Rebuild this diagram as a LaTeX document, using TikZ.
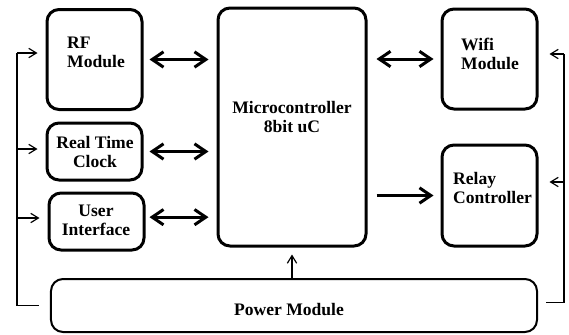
\documentclass[tikz,border=0pt]{standalone}
\usepackage{fontspec}
\setmainfont{Liberation Serif}
\usetikzlibrary{arrows.meta}

\begin{document}
\begin{tikzpicture}[x=0.3mm,y=-0.3mm,
  block/.style={draw, line width=0.9mm, rounded corners=3.6mm, inner sep=0pt},
  lbl/.style={font=\bfseries\fontsize{15}{16.2}\selectfont, inner sep=0pt},
  bothway/.style={line width=0.9mm, {Straight Barb[length=3.4mm,width=4.6mm]}-{Straight Barb[length=3.4mm,width=4.6mm]}},
  oneway/.style={line width=0.9mm, -{Straight Barb[length=3.4mm,width=4.6mm]}},
  wire/.style={line width=0.35mm},
  feed/.style={wire, -{Straight Barb[length=2.3mm,width=2.8mm]}}]
\useasboundingbox (0,0) rectangle (569,334);

% Blocks
\node[block, minimum width=28.5mm, minimum height=30mm] (rf) at (94.5,59.5) {};
\node[block, minimum width=28.5mm, minimum height=17.1mm] (rtc) at (94.5,151.5) {};
\node[block, minimum width=28.5mm, minimum height=17.1mm] (ui) at (96.5,221.5) {};
\node[block, minimum width=44.4mm, minimum height=71.4mm] (mcu) at (292,127) {};
\node[block, minimum width=28.5mm, minimum height=30mm] (wifi) at (489.5,59) {};
\node[block, minimum width=28.5mm, minimum height=30.3mm] (relay) at (489.5,195.5) {};
\node[block, line width=0.6mm, minimum width=145.8mm, minimum height=15.9mm] (power) at (294,305.5) {};

% Labels
\node[lbl, align=left, anchor=west] (rftext) at (67,52) {RF\\Module};
\node[lbl, align=center] (rtctext) at (95,152) {Real Time\\Clock};
\node[lbl, align=center] (uitext) at (96,220) {User\\Interface};
\node[lbl, align=center] (mcutext) at (292,117) {Microcontroller\\8bit uC};
\node[lbl, align=left, anchor=west] (wifitext) at (461,54) {Wifi\\Module};
\node[lbl, align=left, anchor=west] (relaytext) at (453,188) {Relay\\Controller};
\node[lbl] (powertext) at (289,310) {Power Module};

% Data links
\draw[bothway] ([xshift=1.8mm]rf.east) -- ([xshift=-2.4mm]rf.east -| mcu.west);
\draw[bothway] ([xshift=1.8mm]rtc.east) -- ([xshift=-2.4mm]rtc.east -| mcu.west);
\draw[bothway] ([xshift=1.2mm,yshift=1.3mm]ui.east) -- ([xshift=-2.4mm,yshift=1.3mm]ui.east -| mcu.west);
\draw[bothway] ([xshift=2.7mm]mcu.east |- wifi.west) -- ([xshift=-2.1mm]wifi.west);
\draw[oneway] ([xshift=2.7mm]mcu.east |- relay.west) -- ([xshift=-2.1mm]relay.west);

% Power lines
\coordinate (l1) at (17,53);
\coordinate (l2) at (17,149);
\coordinate (l3) at (17,218);
\coordinate (r1) at (564,54);
\coordinate (r2) at (564,182);
\draw[wire] ([xshift=-3.3mm]power.west) -| (l1);
\draw[feed] (l1) -- ([xshift=-2.4mm]l1 -| rf.west);
\draw[feed] (l2) -- ([xshift=-2.4mm]l2 -| rtc.west);
\draw[feed] (l3) -- ([xshift=-2.4mm]l3 -| ui.west);
\draw[wire] ([xshift=2.4mm,yshift=1mm]power.east) -| (r1);
\draw[feed] (r1) -- ([xshift=3.3mm]r1 -| wifi.east);
\draw[feed] (r2) -- ([xshift=3.3mm]r2 -| relay.east);
\draw[feed] (power.north -| mcu.south) -- ([yshift=-2.1mm]mcu.south);
\end{tikzpicture}
\end{document}
